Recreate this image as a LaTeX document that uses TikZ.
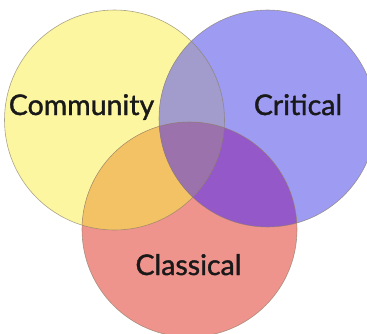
\documentclass[tikz,border=0pt]{standalone}
\usepackage{fontspec}
\setmainfont{Lato}
\newfontfamily\labfont{Lato}[FakeBold=1.3]
\usepackage{xcolor}
\definecolor{ylwbg}{HTML}{FCF6A1}
\definecolor{blubg}{HTML}{9D9BF2}
\definecolor{redbg}{HTML}{EF938D}
\definecolor{ybbg}{HTML}{A19CCB}
\definecolor{yrbg}{HTML}{F2C264}
\definecolor{brbg}{HTML}{9558C8}
\definecolor{allbg}{HTML}{9B72AC}
\definecolor{rim}{HTML}{8A8068}
\def\ry{110}
\def\rb{108.5}
\def\rr{107.5}
\tikzset{lab/.style={font=\labfont\fontsize{28.5}{32}\selectfont,text=black!90,inner sep=0pt,anchor=base}}

\begin{document}
\begin{tikzpicture}[x=1pt,y=1pt]
\useasboundingbox (0,0) rectangle (367,333);

% --- circle centres --------------------------------------------------
\coordinate (ylw) at (114.5,213);
\coordinate (blu) at (267.5,214.5);
\coordinate (red) at (189.5,103.5);

% --- plain discs -----------------------------------------------------
\fill[ylwbg] (ylw) circle[radius=\ry];
\fill[blubg] (blu) circle[radius=\rb];
\fill[redbg] (red) circle[radius=\rr];

% --- overlaps --------------------------------------------------------
\begin{scope}
  \clip (ylw) circle[radius=\ry];
  \fill[ybbg] (blu) circle[radius=\rb];
  \fill[yrbg] (red) circle[radius=\rr];
\end{scope}
\begin{scope}
  \clip (blu) circle[radius=\rb];
  \fill[brbg] (red) circle[radius=\rr];
\end{scope}
\begin{scope}
  \clip (ylw) circle[radius=\ry];
  \clip (blu) circle[radius=\rb];
  \fill[allbg] (red) circle[radius=\rr];
\end{scope}

% --- rims ------------------------------------------------------------
\foreach \c/\r in {ylw/\ry,blu/\rb,red/\rr}{
  \draw[rim,line width=0.6pt,opacity=0.7] (\c) circle[radius=\r];
}

% --- labels ----------------------------------------------------------
\node[lab] (community) at (81.5,218) {Community};
\node[lab] (critical) at (298,218) {Critical};
\node[lab] (classical) at (188.5,58) {Classical};

\end{tikzpicture}
\end{document}
